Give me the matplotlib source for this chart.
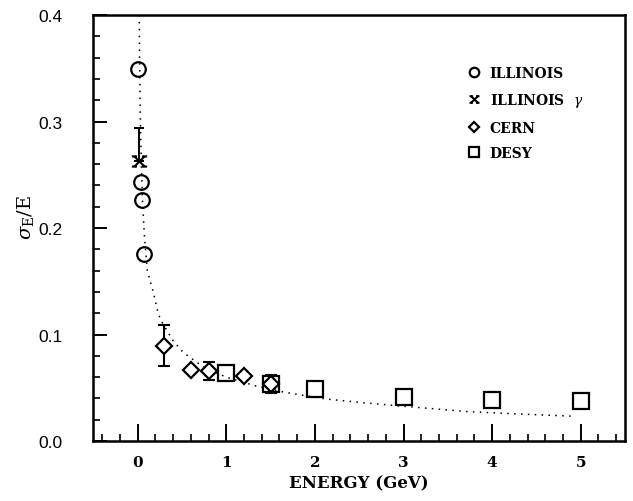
import numpy as np
import matplotlib
matplotlib.use('Agg')
import matplotlib.pyplot as plt
from matplotlib.path import Path
from matplotlib.ticker import MultipleLocator

plt.rcParams['mathtext.fontset'] = 'dejavuserif'

# Energy resolution measurements, sigma_E / E versus beam energy (GeV)
illinois_e = [0.005, 0.035, 0.05, 0.075]
illinois_res = [0.349, 0.243, 0.226, 0.176]

gamma_e = [0.018]
gamma_res = [0.263]
gamma_err_hi = [0.031]

cern_e = [0.3, 0.6, 0.8, 1.2, 1.5]
cern_res = [0.0895, 0.0664, 0.0654, 0.0613, 0.0535]
cern_err = [0.0195, 0.0, 0.0085, 0.0, 0.0085]

desy_e = [1.0, 1.5, 2.0, 3.0, 4.0, 5.0]
desy_res = [0.0638, 0.0535, 0.0488, 0.041, 0.0388, 0.0373]

# Fitted resolution curve (dotted)
fit_e = [0.017, 0.022, 0.03, 0.04, 0.055, 0.075, 0.108, 0.176, 0.233, 0.278,
         0.40, 0.515, 0.59, 0.75, 1.0, 1.32, 1.66, 2.13, 2.58, 3.15, 3.71,
         4.3, 4.94]
fit_res = [0.40, 0.35, 0.30, 0.262, 0.224, 0.193, 0.160, 0.1396, 0.119,
           0.111, 0.094, 0.083, 0.0786, 0.069, 0.060, 0.052, 0.0457, 0.0394,
           0.0357, 0.0316, 0.0277, 0.0254, 0.0232]

# X-shaped marker with short serifs on each arm
verts = [(-1, -1), (1, 1), (-1, 1), (1, -1),
         (-1.5, 1), (-0.5, 1), (0.5, 1), (1.5, 1),
         (-1.5, -1), (-0.5, -1), (0.5, -1), (1.5, -1)]
codes = [Path.MOVETO, Path.LINETO] * 6
xmark = Path(verts, codes)

serif = 'DejaVu Serif'

fig = plt.figure(figsize=(6.33, 5.02), dpi=100)
ax = fig.add_axes([0.1476, 0.1195, 0.8398, 0.8485])

ax.plot(fit_e, fit_res, color='black', linestyle=(0, (1, 3.5)), linewidth=1.1)

ax.plot(illinois_e, illinois_res, 'o', ms=10.5, mfc='none', mec='black',
        mew=1.6, label='ILLINOIS')
ax.errorbar(gamma_e, gamma_res, yerr=[[0], gamma_err_hi], fmt='none',
            ecolor='black', elinewidth=1.4, capsize=3.5, capthick=1.4)
ax.plot(gamma_e, gamma_res, linestyle='none', marker=xmark, ms=11,
        mfc='none', mec='black', mew=1.5, label=r'ILLINOIS  $\gamma$')
ax.errorbar(cern_e, cern_res, yerr=cern_err, fmt='none', ecolor='black',
            elinewidth=1.5, capsize=4, capthick=1.5)
ax.plot(cern_e, cern_res, 'D', ms=8.5, mfc='white', mec='black', mew=1.6,
        label='CERN')
ax.plot(desy_e, desy_res, 's', ms=11, mfc='none', mec='black', mew=1.6,
        label='DESY')

ax.set_xlim(-0.5, 5.5)
ax.set_ylim(0.0, 0.4)
ax.xaxis.set_major_locator(MultipleLocator(1))
ax.xaxis.set_minor_locator(MultipleLocator(0.2))
ax.yaxis.set_major_locator(MultipleLocator(0.1))
ax.yaxis.set_minor_locator(MultipleLocator(0.02))
ax.set_yticks([0.0, 0.1, 0.2, 0.3, 0.4])
ax.set_yticklabels(['0.0', '0.1', '0.2', '0.3', '0.4'])

ax.tick_params(axis='x', which='major', direction='in', length=12, width=1.4,
               pad=10, labelsize=11)
ax.tick_params(axis='x', which='minor', direction='in', length=5, width=1.2)
ax.tick_params(axis='y', which='major', direction='in', length=10, width=1.4,
               pad=22, labelsize=12.5)
ax.tick_params(axis='y', which='minor', direction='in', length=5, width=1.2)
for lab in ax.get_xticklabels():
    lab.set_fontfamily(serif)
    lab.set_fontweight('bold')
for lab in ax.get_yticklabels():
    lab.set_fontfamily('Liberation Sans')

for sp in ax.spines.values():
    sp.set_linewidth(1.8)

ax.set_xlabel('ENERGY (GeV)', fontfamily=serif, fontweight='bold',
              fontsize=12, labelpad=4)
ax.set_ylabel(r'$\sigma_{\rm E}/{\rm E}$', fontsize=14)
ax.yaxis.set_label_coords(-0.108, 0.528)

leg = ax.legend(loc='upper left', bbox_to_anchor=(0.685, 0.91),
                frameon=False, markerscale=0.65, handlelength=0.6,
                handletextpad=0.8, labelspacing=0.82,
                prop={'family': serif, 'weight': 'bold', 'size': 10})

fig.savefig('out.png', dpi=100)
